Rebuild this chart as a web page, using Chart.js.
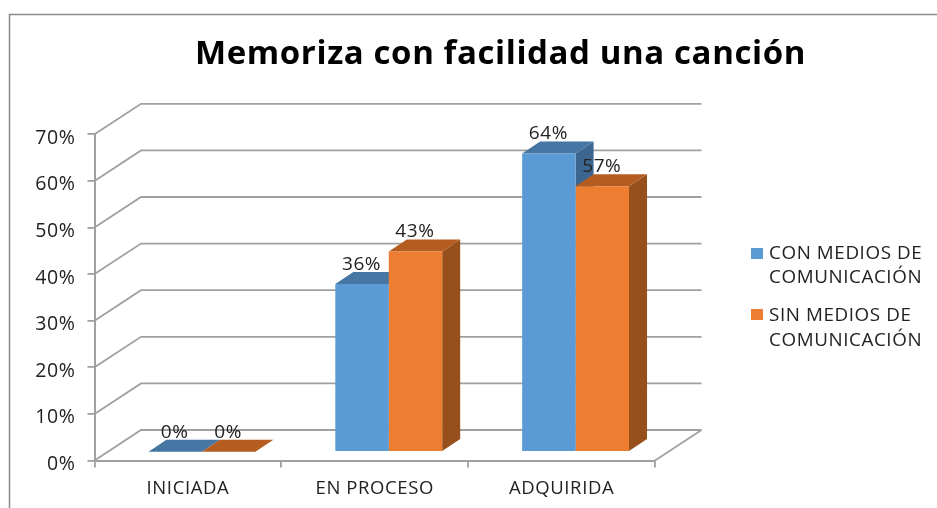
<!DOCTYPE html>
<html><head><meta charset="utf-8">
<style>html,body{margin:0;padding:0;background:#fff}#w{width:937px;height:508px}canvas{display:block;filter:blur(0.35px)}</style>
<script src="https://cdn.jsdelivr.net/npm/chart.js@4"></script></head>
<body><div id="w"><canvas id="c" width="937" height="508"></canvas></div>
<script>
const titleText = 'Memoriza con facilidad una canción';
const categories = ['INICIADA', 'EN PROCESO', 'ADQUIRIDA'];
const seriesConMedios = [0, 36, 64];
const seriesSinMedios = [0, 43, 57];
const legendLines = [['CON MEDIOS DE', 'COMUNICACIÓN'], ['SIN MEDIOS DE', 'COMUNICACIÓN']];
const frontColors = ['#5B9BD5', '#ED7D31'];
const topColors = ['#4676A3', '#B55D20'];
const sideColors = ['#3C668F', '#97501B'];
const gridColor = '#a0a0a0';
const textColor = '#222222';
const fontFamily = '"Open Sans"';
// 3D offsets
const wall = {dx: 46.5, dy: -30.5};
const plane = {dx: 14, dy: -8.7};
const depth = {dx: 18, dy: -12};

const threeD = {
  id: 'threeD',
  afterLayout(chart) {
    chart.titleBlock.left = 0;
    chart.titleBlock.right = 1001;
  },
  beforeDraw(chart) {
    const {ctx, scales: {x, y}, chartArea: a} = chart;
    ctx.letterSpacing = '0.6px';
    ctx.save();
    ctx.strokeStyle = '#8a8a8a'; ctx.lineWidth = 1.5;
    ctx.beginPath(); ctx.moveTo(9.5, 508); ctx.lineTo(9.5, 14.5); ctx.lineTo(937, 14.5); ctx.stroke();
    ctx.strokeStyle = gridColor; ctx.lineWidth = 1.8;
    y.ticks.forEach(t => {
      const py = y.getPixelForValue(t.value);
      ctx.beginPath();
      ctx.moveTo(a.left, py);
      ctx.lineTo(a.left + wall.dx, py + wall.dy);
      ctx.lineTo(a.right + wall.dx, py + wall.dy);
      ctx.stroke();
    });
    ctx.beginPath();
    ctx.moveTo(a.right, a.bottom);
    ctx.lineTo(a.right + wall.dx, a.bottom + wall.dy);
    ctx.stroke();
    ctx.restore();
  },
  beforeDatasetsDraw(chart) {
    const {ctx} = chart;
    ctx.save();
    ctx.translate(plane.dx, plane.dy);
    chart.data.datasets.forEach((ds, i) => {
      chart.getDatasetMeta(i).data.forEach(b => {
        const l = b.x - b.width / 2, r = b.x + b.width / 2, t = b.y, bt = b.base;
        ctx.fillStyle = sideColors[i];
        ctx.beginPath();
        ctx.moveTo(r, t); ctx.lineTo(r + depth.dx, t + depth.dy);
        ctx.lineTo(r + depth.dx, bt + depth.dy); ctx.lineTo(r, bt);
        ctx.closePath(); ctx.fill();
        ctx.fillStyle = topColors[i];
        ctx.beginPath();
        ctx.moveTo(l, t); ctx.lineTo(l + depth.dx, t + depth.dy);
        ctx.lineTo(r + depth.dx, t + depth.dy); ctx.lineTo(r, t);
        ctx.closePath(); ctx.fill();
      });
    });
    // front faces are drawn by Chart.js with this same translation
  },
  afterDatasetsDraw(chart) {
    const {ctx} = chart;
    ctx.restore();
    ctx.save();
    ctx.fillStyle = textColor;
    ctx.font = '19px ' + fontFamily;
    ctx.textAlign = 'center'; ctx.textBaseline = 'middle';
    chart.data.datasets.forEach((ds, i) => {
      chart.getDatasetMeta(i).data.forEach((b, j) => {
        ctx.fillText(ds.data[j] + '%', b.x + plane.dx - 0.5, b.y + plane.dy - 19.5);
      });
    });
    // legend
    ctx.textAlign = 'left';
    ctx.font = '18.8px ' + fontFamily;
    const rows = [253.5, 316];
    const boxes = [253, 314];
    legendLines.forEach((lines, i) => {
      ctx.fillStyle = frontColors[i];
      ctx.fillRect(751, boxes[i] - 5, 12, 11);
      ctx.fillStyle = textColor;
      lines.forEach((s, k) => ctx.fillText(s, 769, rows[i] + k * 24.5));
    });
    ctx.restore();
  }
};

new Chart(document.getElementById('c'), {
  type: 'bar',
  data: {
    labels: categories,
    datasets: [
      {label: legendLines[0].join(' '), data: seriesConMedios, backgroundColor: frontColors[0]},
      {label: legendLines[1].join(' '), data: seriesSinMedios, backgroundColor: frontColors[1]}
    ]
  },
  plugins: [threeD],
  options: {
    responsive: false,
    animation: false,
    layout: {padding: {left: 0, top: 0, right: 282, bottom: 0}},
    datasets: {bar: {categoryPercentage: 0.572, barPercentage: 1}},
    plugins: {
      legend: {display: false},
      tooltip: {enabled: false},
      title: {
        display: true, text: titleText, color: '#000',
        font: {family: fontFamily, size: 33, weight: 'bold'},
        padding: {top: 35, bottom: 59.7}
      }
    },
    scales: {
      x: {
        grid: {drawOnChartArea: false, color: gridColor, tickLength: 7, lineWidth: 1.8, tickColor: gridColor},
        border: {color: gridColor, width: 2},
        ticks: {color: textColor, font: {family: fontFamily, size: 18.5}, padding: 10},
        afterFit(s) { s.height = 47.5; }
      },
      y: {
        min: 0, max: 70,
        grid: {drawOnChartArea: false, color: gridColor, tickLength: 7, lineWidth: 1.8},
        border: {color: gridColor, width: 2},
        ticks: {stepSize: 10, color: textColor, font: {family: fontFamily, size: 19.5}, padding: 12, callback: v => v + '%'},
        afterFit(s) { s.width = 94.5; },
        afterUpdate(s) {
          const draw = s.drawLabels.bind(s);
          s.drawLabels = ca => { s.ctx.save(); s.ctx.translate(0, 2); draw(ca); s.ctx.restore(); };
        }
      }
    }
  }
});
</script></body></html>
